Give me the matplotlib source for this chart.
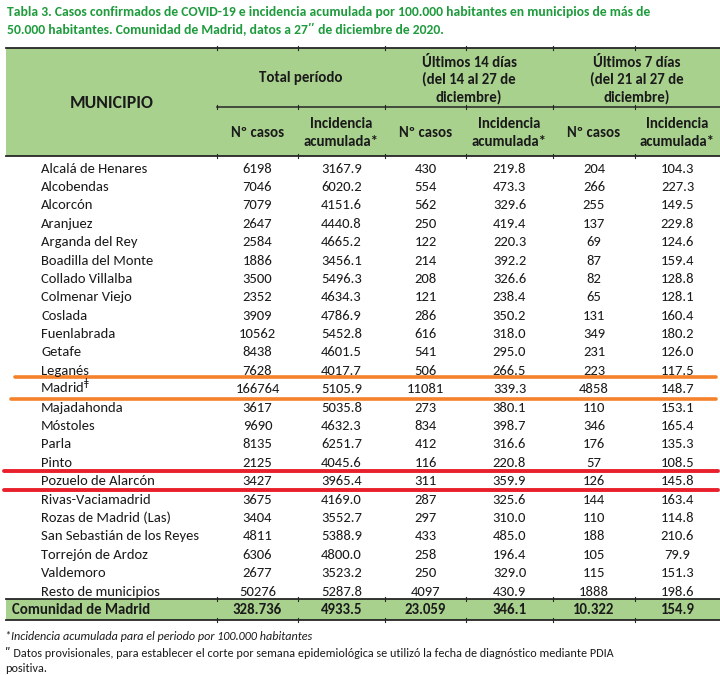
import matplotlib
matplotlib.use("Agg")
import matplotlib.pyplot as plt
from matplotlib import font_manager as fm
from matplotlib.patches import Rectangle

# ---------------- data ----------------
municipios = ["Alcalá de Henares", "Alcobendas", "Alcorcón", "Aranjuez", "Arganda del Rey",
              "Boadilla del Monte", "Collado Villalba", "Colmenar Viejo", "Coslada", "Fuenlabrada",
              "Getafe", "Leganés", "Madrid", "Majadahonda", "Móstoles", "Parla", "Pinto",
              "Pozuelo de Alarcón", "Rivas-Vaciamadrid", "Rozas de Madrid (Las)",
              "San Sebastián de los Reyes", "Torrejón de Ardoz", "Valdemoro", "Resto de municipios"]
casos_total = [6198, 7046, 7079, 2647, 2584, 1886, 3500, 2352, 3909, 10562, 8438, 7628, 166764,
               3617, 9690, 8135, 2125, 3427, 3675, 3404, 4811, 6306, 2677, 50276]
ia_total = [3167.9, 6020.2, 4151.6, 4440.8, 4665.2, 3456.1, 5496.3, 4634.3, 4786.9, 5452.8,
            4601.5, 4017.7, 5105.9, 5035.8, 4632.3, 6251.7, 4045.6, 3965.4, 4169.0, 3552.7,
            5388.9, 4800.0, 3523.2, 5287.8]
casos_14 = [430, 554, 562, 250, 122, 214, 208, 121, 286, 616, 541, 506, 11081, 273, 834, 412,
            116, 311, 287, 297, 433, 258, 250, 4097]
ia_14 = [219.8, 473.3, 329.6, 419.4, 220.3, 392.2, 326.6, 238.4, 350.2, 318.0, 295.0, 266.5,
         339.3, 380.1, 398.7, 316.6, 220.8, 359.9, 325.6, 310.0, 485.0, 196.4, 329.0, 430.9]
casos_7 = [204, 266, 255, 137, 69, 87, 82, 65, 131, 349, 231, 223, 4858, 110, 346, 176, 57, 126,
           144, 110, 188, 105, 115, 1888]
ia_7 = [104.3, 227.3, 149.5, 229.8, 124.6, 159.4, 128.8, 128.1, 160.4, 180.2, 126.0, 117.5,
        148.7, 153.1, 165.4, 135.3, 108.5, 145.8, 163.4, 114.8, 210.6, 79.9, 151.3, 198.6]
total_label = "Comunidad de Madrid"
total_values = ["328.736", "4933.5", "23.059", "346.1", "10.322", "154.9"]

title_lines = ["Tabla 3. Casos confirmados de COVID-19 e incidencia acumulada por 100.000 habitantes en municipios de más de",
               "50.000 habitantes. Comunidad de Madrid, datos a 27ʺ de diciembre de 2020."]
group_headers = ["Total período", "Últimos 14 días\n(del 14 al 27 de\ndiciembre)",
                 "Últimos 7 días\n(del 21 al 27 de\ndiciembre)"]
sub_headers = ["Nº casos", "Incidencia\nacumulada*"] * 3
footnotes = ["*Incidencia acumulada para el periodo por 100.000 habitantes",
             "ʺ Datos provisionales, para establecer el corte por semana epidemiológica se utilizó la fecha de diagnóstico mediante PDIA",
             "positiva."]
name_marks = {"Madrid": "ǂ"}
orange_rows = ["Madrid"]
red_rows = ["Pozuelo de Alarcón"]

# ---------------- fonts ----------------
avail = {f.name for f in fm.fontManager.ttflist}
fam = next((f for f in ["Carlito", "Lato", "Open Sans", "DejaVu Sans"] if f in avail), "DejaVu Sans")
plt.rcParams['font.family'] = [fam, "DejaVu Sans"]

# ---------------- layout (pixel space) ----------------
W, H = 720, 675
fig = plt.figure(figsize=(W / 100, H / 100), dpi=100)
ax = fig.add_axes([0, 0, 1, 1])
ax.set_xlim(0, W)
ax.set_ylim(H, 0)
ax.axis("off")

green = "#A9D18E"
txt = "#1A1A1A"
line_c = "#262626"
left, right = 6, 720
dividers = [217, 298, 385, 466, 553, 635, 720]
col_centers = [(dividers[i] + dividers[i + 1]) / 2 for i in range(6)]
head_top, head_mid, head_bot = 48, 107, 156
row0, row_h = 168, 18.39
fs = 10.5
hfs = 10.7
base_off = 4.6

# title
ax.text(7, 12, title_lines[0], color="#1E9B3C", fontsize=9.8, fontweight="bold", va="center", ha="left")
ax.text(7, 29, title_lines[1], color="#1E9B3C", fontsize=9.8, fontweight="bold", va="center", ha="left")

# header
ax.add_patch(Rectangle((left, head_top), right - left, head_bot - head_top, color=green, lw=0, zorder=0))
ax.plot([left, right], [head_top, head_top], color=line_c, lw=1.3)
ax.plot([left, right], [head_bot, head_bot], color=line_c, lw=1.3)
ax.plot([dividers[0], right], [head_mid, head_mid], color=line_c, lw=1.1)
for x in dividers[:-1]:
    for yy in (head_top, head_mid, head_bot):
        ax.plot([x, x], [yy - 2, yy + 2], color=line_c, lw=0.8)

ax.text(112, 103, "MUNICIPIO", fontsize=12.8, fontweight="bold", color=txt, ha="center", va="center")
for g, hdr in enumerate(group_headers):
    cx = (dividers[2 * g] + dividers[2 * g + 2]) / 2
    ax.text(cx, 78 if g == 0 else 80, hdr, fontsize=hfs, fontweight="bold", color=txt,
            ha="center", va="center", linespacing=1.25)
for i, sh in enumerate(sub_headers):
    ax.text(col_centers[i], 133, sh, fontsize=hfs, fontweight="bold", color=txt,
            ha="center", va="center", linespacing=1.35)

# body rows
cols = [casos_total, ia_total, casos_14, ia_14, casos_7, ia_7]
for r, name in enumerate(municipios):
    y = row0 + r * row_h
    if name in name_marks:
        label = name + f"$^{{\\mathrm{{{name_marks[name]}}}}}$"
        ax.text(39.5, y + base_off, label, fontsize=fs, color=txt, ha="left", va="baseline")
    else:
        ax.text(41, y + base_off, name, fontsize=fs, color=txt, ha="left", va="baseline")
    for c, vals in enumerate(cols):
        v = vals[r]
        s = f"{v:.1f}" if isinstance(v, float) else f"{v}"
        ax.text(col_centers[c], y + base_off, s, fontsize=fs, color=txt, ha="center", va="baseline")

# highlight lines
for name in orange_rows:
    r = municipios.index(name)
    y = row0 + r * row_h
    ax.plot([15, 716], [y - 12, y - 12], color="#F5822A", lw=2.6, solid_capstyle="round")
    ax.plot([11, 716], [y + 10.5, y + 10.5], color="#F5822A", lw=2.6, solid_capstyle="round")
for name in red_rows:
    r = municipios.index(name)
    y = row0 + r * row_h
    ax.plot([4, 718], [y - 10, y - 10], color="#E8202C", lw=2.8, solid_capstyle="round")
    ax.plot([4, 718], [y + 9.5, y + 9.5], color="#E8202C", lw=2.8, solid_capstyle="round")

# total row
ty0, ty1 = 599, 620
ax.add_patch(Rectangle((left, ty0), right - left, ty1 - ty0, color=green, lw=0, zorder=0))
ax.plot([left, right], [ty0, ty0], color=line_c, lw=1.3)
ax.plot([left, right], [ty1, ty1], color=line_c, lw=1.3)
for x in dividers[:-1]:
    for yy in (ty0, ty1):
        ax.plot([x, x], [yy - 2, yy + 2], color=line_c, lw=0.8)
ax.text(12, 610.5, total_label, fontsize=hfs, fontweight="bold", color=txt, ha="left", va="center")
for c, s in enumerate(total_values):
    ax.text(col_centers[c], 610.5, s, fontsize=hfs, fontweight="bold", color=txt, ha="center", va="center")

# footnotes
ax.text(5, 637, footnotes[0], fontsize=8.7, style="italic", color=txt, ha="left", va="center")
ax.text(5, 653, footnotes[1], fontsize=8.7, color=txt, ha="left", va="center")
ax.text(5, 668, footnotes[2], fontsize=8.7, color=txt, ha="left", va="center")

fig.savefig("out.png", dpi=100, facecolor="white")
